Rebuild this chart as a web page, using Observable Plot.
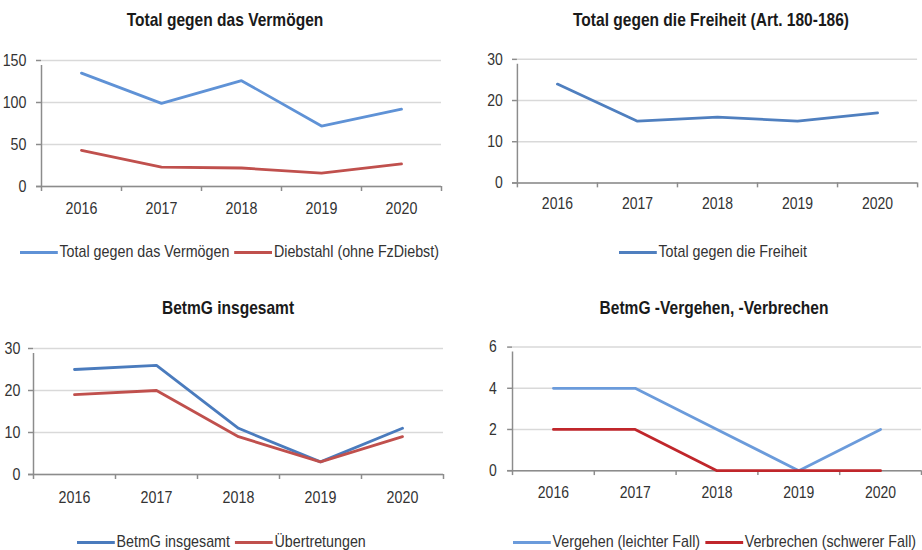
<!DOCTYPE html>
<html>
<head>
<meta charset="utf-8">
<script src="https://cdn.jsdelivr.net/npm/d3@7"></script>
<script src="https://cdn.jsdelivr.net/npm/@observablehq/plot@0.6"></script>
<style>
  html, body { margin: 0; padding: 0; background: #fff; overflow: hidden; }
  body { width: 922px; height: 550px; position: relative;
         font-family: "Liberation Sans", Arial, sans-serif; color: #222; }
  .title { position: absolute; font-weight: bold; font-size: 18.5px; transform: translate(-50%, -50%) scaleX(0.84); white-space: nowrap; color: #1a1a1a; }
  .legend { position: absolute; display: flex; align-items: center; font-size: 17px; white-space: nowrap; transform: translateY(-50%) scaleX(0.84); transform-origin: 0 50%; color: #333; }
  .legend .sw { display: inline-block; width: 45px; height: 3px; margin-right: 2px; }
  .legend .item { display: flex; align-items: center; margin-right: 6px; }
  .panel { position: absolute; }
  .panel svg { overflow: visible; }
</style>
</head>
<body>
<script>
// ---------- data ----------
const years = [2016, 2017, 2018, 2019, 2020];

const vermoegenTotal = [135, 99, 126, 72, 92];
const diebstahl      = [43, 23, 22, 16, 27];

const freiheitTotal  = [24, 15, 16, 15, 17];

const betmgTotal     = [25, 26, 11, 3, 11];
const uebertretungen = [19, 20, 9, 3, 9];

const vergehen       = [4, 4, 2, 0, 2];
const verbrechen     = [2, 2, 0, 0, 0];

const ticks1 = [0, 50, 100, 150];
const ticks2 = [0, 10, 20, 30];
const ticks3 = [0, 10, 20, 30];
const ticks4 = [0, 2, 4, 6];

const titles = [
  "Total gegen das Vermögen",
  "Total gegen die Freiheit (Art. 180-186)",
  "BetmG insgesamt",
  "BetmG -Vergehen, -Verbrechen"
];

// ---------- helpers ----------
const AXIS = "#8c8c8c", GRID = "#d9d9d9", FONT = `"Liberation Sans", Arial, sans-serif`;
const bounds = [2015.5, 2016.5, 2017.5, 2018.5, 2019.5, 2020.5];
const NARROW = 0.84;

function panel({left, top, width, height, marginLeft, marginRight, marginTop, marginBottom, yTicks, series, labelPad, yPad}) {
  const yMax = yTicks[yTicks.length - 1];
  const marks = [
    Plot.gridY(yTicks, {stroke: GRID, strokeOpacity: 1, strokeWidth: 1.5}),
    Plot.ruleY([0], {stroke: AXIS, strokeWidth: 1.5, insetLeft: -5}),
    Plot.ruleX([bounds[0]], {y1: 0, y2: yMax, stroke: AXIS, strokeWidth: 1.5, insetBottom: -5}),
    Plot.axisY({ticks: yTicks, tickSize: 5, tickPadding: yPad, tickFormat: d => String(d), stroke: AXIS, strokeWidth: 1.5, fill: "#333", fontSize: 17, fontFamily: FONT, label: null}),
    Plot.axisX({ticks: bounds, tickSize: 5, tickFormat: () => "", stroke: AXIS, strokeWidth: 1.5, label: null}),
    Plot.axisX({ticks: years, tickSize: 0, tickPadding: labelPad, tickFormat: d => String(d), fill: "#333", fontSize: 17, fontFamily: FONT, label: null})
  ];
  for (const s of series) {
    const data = years.map((yr, i) => ({year: yr, value: s.values[i]}));
    marks.push(Plot.line(data, {x: "year", y: "value", stroke: s.color, strokeWidth: 2.8, strokeLinejoin: "miter"}));
  }
  const chart = Plot.plot({
    width, height, marginLeft, marginRight, marginTop, marginBottom,
    style: {background: "transparent", fontFamily: FONT, overflow: "visible"},
    x: {domain: [bounds[0], bounds[bounds.length - 1]], axis: null},
    y: {domain: [0, yMax], axis: null},
    marks
  });
  // condense tick label glyphs (narrow font look)
  chart.querySelectorAll("text").forEach(t => {
    let tr = t.getAttribute("transform") || "";
    const x = t.getAttribute("x");
    if (x != null && !isNaN(+x)) { tr += ` translate(${x},0)`; t.removeAttribute("x"); }
    t.setAttribute("transform", `${tr} scale(${NARROW},1)`.trim());
  });
  const div = document.createElement("div");
  div.className = "panel";
  div.style.left = left + "px";
  div.style.top = top + "px";
  div.appendChild(chart);
  document.body.appendChild(div);
}

function title(text, x, y) {
  const d = document.createElement("div");
  d.className = "title";
  d.textContent = text;
  d.style.left = x + "px";
  d.style.top = y + "px";
  document.body.appendChild(d);
}

function legend(items, x, y) {
  const d = document.createElement("div");
  d.className = "legend";
  d.style.left = x + "px";
  d.style.top = y + "px";
  for (const it of items) {
    const item = document.createElement("div");
    item.className = "item";
    const sw = document.createElement("span");
    sw.className = "sw";
    sw.style.background = it.color;
    const t = document.createElement("span");
    t.textContent = it.label;
    item.appendChild(sw);
    item.appendChild(t);
    d.appendChild(item);
  }
  document.body.appendChild(d);
}

// ---------- panel 1 ----------
const C1b = "#5f92d6", C1r = "#c0504d";
panel({left: 0, top: 0, width: 461, height: 225, marginLeft: 41, marginRight: 20, marginTop: 60, marginBottom: 39,
  yTicks: ticks1, labelPad: 15, yPad: 10,
  series: [{values: vermoegenTotal, color: C1b}, {values: diebstahl, color: C1r}]});
title(titles[0], 225, 20);
legend([{label: "Total gegen das Vermögen", color: C1b}, {label: "Diebstahl (ohne FzDiebst)", color: C1r}], 20, 252);

// ---------- panel 2 ----------
const C2b = "#4f7fbf";
panel({left: 461, top: 0, width: 470, height: 225, marginLeft: 57, marginRight: 5, marginTop: 60, marginBottom: 39,
  yTicks: ticks2, labelPad: 15, yPad: 10,
  series: [{values: freiheitTotal, color: C2b}]});
title(titles[1], 711, 20);
legend([{label: "Total gegen die Freiheit", color: C2b}], 619, 252);

// ---------- panel 3 ----------
const C3b = "#4a7bbd", C3r = "#c0504d";
panel({left: 0, top: 275, width: 461, height: 240, marginLeft: 33, marginRight: 18, marginTop: 73, marginBottom: 41,
  yTicks: ticks3, labelPad: 16, yPad: 8,
  series: [{values: betmgTotal, color: C3b}, {values: uebertretungen, color: C3r}]});
title(titles[2], 228, 308);
legend([{label: "BetmG insgesamt", color: C3b}, {label: "Übertretungen", color: C3r}], 77, 542);

// ---------- panel 4 ----------
const C4b = "#6b9bdb", C4r = "#c0262b";
panel({left: 461, top: 275, width: 470, height: 240, marginLeft: 52, marginRight: 1, marginTop: 73, marginBottom: 41,
  yTicks: ticks4, labelPad: 16, yPad: 11,
  series: [{values: vergehen, color: C4b}, {values: verbrechen, color: C4r}]});
title(titles[3], 714, 308);
legend([{label: "Vergehen (leichter Fall)", color: C4b}, {label: "Verbrechen (schwerer Fall)", color: C4r}], 513, 542);
</script>
</body>
</html>
